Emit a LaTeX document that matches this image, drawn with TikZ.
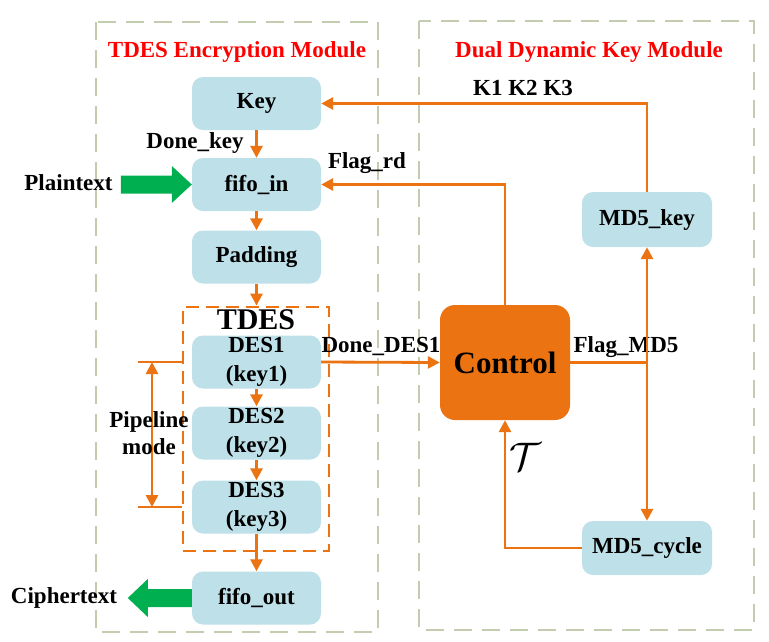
\documentclass[tikz,border=0pt]{standalone}
\usepackage{fontspec}
\setmainfont{Liberation Serif}
\usetikzlibrary{arrows.meta,calc}
\definecolor{boxblue}{RGB}{190,224,232}
\definecolor{org}{RGB}{235,115,18}
\definecolor{grn}{RGB}{0,176,80}
\definecolor{modgray}{RGB}{196,204,176}
\begin{document}
\begin{tikzpicture}[x=1pt,y=-1pt,
  blk/.style={fill=boxblue, rounded corners=11pt, minimum width=129pt, minimum height=53pt,
    font=\bfseries\fontsize{23}{29}\selectfont, align=center, inner sep=0pt},
  lbl/.style={font=\bfseries\fontsize{23}{27}\selectfont, inner sep=0pt, align=center},
  ttl/.style={font=\bfseries\fontsize{23}{27}\selectfont, text=red, inner sep=0pt},
  conn/.style={draw=org, line width=2.8pt},
  arr/.style={conn, -{Triangle[length=12pt,width=12pt]}},
  darr/.style={conn, {Triangle[length=12pt,width=12pt]}-{Triangle[length=12pt,width=12pt]}},
  modbox/.style={draw=modgray, line width=2.8pt, dash pattern=on 18pt off 10pt},
  tdesbox/.style={draw=org, line width=2.8pt, dash pattern=on 13pt off 7pt, minimum width=146pt, minimum height=244pt, inner sep=0pt}
]
\useasboundingbox (0,0) rectangle (769,641);
\fill[white] (0,0) rectangle (769,641);

% module frames
\draw[modbox] (96,22) rectangle (378,632);
\draw[modbox] (419,21) rectangle (754,630);
\node[ttl] (t1) at (237,52) {TDES Encryption Module};
\node[ttl] (t2) at (589,52) {Dual Dynamic Key Module};

% TDES dashed box
\node[tdesbox] (tdes) at (256,429) {};
\node[font=\bfseries\fontsize{30}{30}\selectfont, inner sep=0pt] (tdeslbl) at (256,320) {TDES};

% blocks
\node[blk] (key) at (256.5,103.5) {Key};
\node[blk] (fifoin) at (256.5,184.5) {fifo\_in};
\node[blk] (padding) at (256.5,257) {Padding};
\node[blk] (des1) at (256.5,362) {DES1\\(key1)};
\node[blk] (des2) at (256.5,433) {DES2\\(key2)};
\node[blk] (des3) at (256.5,507) {DES3\\(key3)};
\node[blk] (fifoout) at (256.5,598) {fifo\_out};
\node[blk, minimum width=130pt, minimum height=55pt] (md5key) at (647,219.5) {MD5\_key};
\node[blk, minimum width=130pt, minimum height=54pt] (md5cycle) at (647,548) {MD5\_cycle};
\node[blk, fill=org, rounded corners=15pt, minimum width=130pt, minimum height=115pt,
  font=\bfseries\fontsize{31}{31}\selectfont] (control) at (505,362.5) {Control};

% left column arrows
\draw[arr] (key) -- (fifoin);
\node[lbl] (donekey) at (195,143) {Done\_key};
\draw[arr] (fifoin) -- (padding);
\draw[arr] (padding.south) -- (padding.south |- tdes.north);
\draw[arr] (des1) -- (des2);
\draw[arr] (des2) -- (des3);
\draw[arr] (des3.south) -- (fifoout.north);

% pipeline mode
\coordinate (pa) at (138,362);
\coordinate (pb) at (138,507);
\draw[conn] (pa) -- (tdes.west |- pa);
\draw[conn] (pb) -- (tdes.west |- pb);
\draw[darr] ($(pa)+(14,0)$) -- ($(pb)+(14,0)$);
\node[lbl] (pipe) at (149,433.5) {Pipeline\\mode};

% green I/O arrows
\fill[grn] ($(fifoin.west)+(-71,-9)$) -- ($(fifoin.west)+(-20,-9)$) -- ($(fifoin.west)+(-20,-18.5)$)
  -- (fifoin.west) -- ($(fifoin.west)+(-20,18.5)$) -- ($(fifoin.west)+(-20,9)$)
  -- ($(fifoin.west)+(-71,9)$) -- cycle;
\node[lbl] (plain) at (68.5,183) {Plaintext};
\fill[grn] (fifoout.west) ++(0,-9) -- ++(-44,0) -- ++(0,-10) -- ++(-20,19) -- ++(20,19) -- ++(0,-10) -- ++(44,0) -- cycle;
\node[lbl] (cipher) at (64,598) {Ciphertext};

% right side connections
\draw[arr] (md5key.north) |- (key.east);
\node[lbl] (k123) at (523,88) {K1 K2 K3};
\draw[arr] (control.north) |- (fifoin.east);
\node[lbl] (flagrd) at (367,163) {Flag\_rd};
\draw[arr] (des1.east) -- (control.west);
\node[lbl] (donedes) at (381,346) {Done\_DES1};
\draw[conn] (control.east) -- (md5key.south |- control.east);
\node[lbl] (flagmd5) at (626,347) {Flag\_MD5};
\draw[darr] (md5key.south) -- (md5cycle.north);
\draw[arr] (md5cycle.west) -| (control.south);
\node[inner sep=0pt] (tau) at (525,457) {\scalebox{1.6}{\fontsize{24}{24}\selectfont$\mathcal{T}$}};
\end{tikzpicture}
\end{document}
